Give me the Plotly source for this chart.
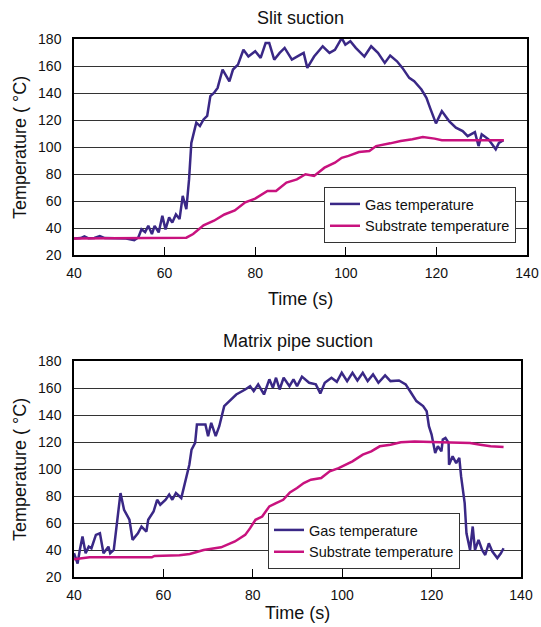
import plotly.graph_objects as go

# ---------------- data ----------------
slit_gas_t = [40, 41.5, 42.3, 43.2, 44.5, 45.7, 46.8, 48.5, 50, 51.5, 53.3, 54.2, 54.9, 55.7, 56.4, 57.2, 57.8, 58.7,
              59.5, 60.2, 61, 61.7, 62.5, 63.3, 64, 64.8, 65.4, 65.9, 66.7, 67, 67.8, 68.6, 69.4, 70.1, 70.9, 71.7,
              72.8, 74.3, 75.1, 76.2, 77.4, 78.5, 80, 81.2, 82.3, 83.1, 84.2, 85.4, 86.5, 88.1, 90, 90.7, 91.5, 93,
              94.9, 96.4, 97.6, 99.1, 99.9, 101, 102.2, 104.1, 105.6, 107.1, 108.6, 109.8, 111.3, 112.5, 114, 115.1,
              116.7, 117.8, 118.6, 119.9, 121.2, 122.8, 124.3, 125.8, 126.9, 128.5, 129.3, 130, 131.5, 133.1, 133.8,
              134.8]
slit_gas_v = [32.3, 32.5, 33.8, 32.4, 32.6, 34, 32.5, 32.3, 32.5, 32.2, 31, 33, 39, 37, 41.6, 35.5, 41.6, 36.7,
              49, 39, 47.8, 44, 50, 46.6, 63.8, 54, 76, 103, 114, 118, 115.5, 120.4, 123, 137.7, 140, 143.8,
              157.4, 148.7, 157.4, 161, 172, 167, 171, 166, 177, 177, 164.7, 169.7, 173.4, 164.7, 168.4, 169.7, 158.6, 167,
              174.6, 169.7, 172, 180.7, 175.8, 178.3, 173.4, 167, 174.6, 169.7, 162.3, 167.7, 163.5, 158.6, 151.2, 148.7,
              142.6, 136.4, 129, 117.5, 126.6, 119.2, 114.3, 111.8, 108, 111, 100.7, 109.4, 105.7, 98.3, 103,
              105]
slit_sub_t = [40, 50, 60, 64.8, 66.3, 68.6, 70.9, 73.2, 75.5, 77.8, 80, 82.7, 84.6, 86.9, 89.2, 91.1, 93, 95.3,
              97.6, 99.1, 100.6, 102.9, 105.2, 106.7, 109.8, 112.1, 114.7, 117, 119.6, 121.2, 134.9]
slit_sub_v = [32.3, 32.3, 32.8, 32.8, 35.5, 42, 45.4, 50, 53, 59, 61.8, 67.5, 67.5, 73.7, 76, 79.8, 78.6, 84.7,
              88.4, 92, 93.4, 96.3, 97, 100.7, 102.7, 104.4, 105.7, 107.4, 106.2, 105, 105]

mat_gas_t = [40, 40.8, 41.3, 41.9, 42.6, 43.3, 43.9, 44.9, 45.8, 46.6, 47.7, 48.1, 48.9, 49.7, 50.4, 51.2, 52.4,
             53.1, 54.3, 55.1, 56.2, 56.6, 57.8, 58.6, 59.3, 60.5, 61.3, 62, 62.8, 64, 65.1, 65.8, 66.3, 67.1, 67.5,
             68.6, 69.4, 70, 70.7, 71.7, 72.5, 73.6, 74.8, 76.3, 78.3, 79.4, 80.2, 81.2, 82.5, 83.7, 84.5, 85.2, 86,
             86.9, 88.2, 89.1, 89.9, 91, 92.6, 94.1, 95.1, 96.1, 97.6, 98.8, 99.9, 101.1, 102.3, 103.4, 104.6, 105.7,
             106.9, 108.1, 109.6, 110.8, 112.7, 114.2, 115.4, 116.6, 118.1, 118.9, 119.4, 120, 120.8, 121.4, 122.2,
             122.5, 123.1, 123.8, 123.9, 124.7, 125.5, 126.2, 126.6, 127.4, 127.8, 128.6, 129.2, 129.7, 130.5, 131.3,
             132, 132.8, 133.6, 134.7, 135.5, 136.1]
mat_gas_v = [37.6, 30, 40, 50, 37.6, 42.5, 41.3, 51.2, 52.4, 37.6, 42.5, 37.6, 40, 62.4, 82.2, 69.8, 62.4,
             47.5, 52.4, 57.4, 53.7, 62.4, 68.5, 77.2, 73.5, 77.2, 81, 77.2, 82.2, 78.5, 94.5, 103.2, 114.4, 119.3, 133,
             133, 133, 124.3, 134.2, 124.3, 131.7, 146.6, 150.3, 155.2, 158.9, 161.4, 157.7, 162.7, 155.2, 166.4, 160.2, 167.6, 158.9,
             167.6, 161.4, 166.4, 161.4, 168.4, 163.9, 162.7, 156, 163.9, 167.6, 164.6, 171.3, 165.1, 171.3, 165.6, 171.3, 165.1,
             170.1, 163.9, 169.3, 165.1, 165.6, 162.7, 156.5, 150.3, 146.6, 142.8, 131.7, 125.5, 111.9, 116.8, 113.1,
             121.8, 123, 119.3, 103.2, 109.4, 104.4, 108.2, 94.5, 74.7, 52.4, 40, 57.4, 40, 47.5, 40,
             36.3, 45, 38.8, 34, 37.6, 41.3]
mat_sub_t = [40, 43.5, 57.4, 58, 63.6, 65.9, 69, 72.9, 76, 78.3, 79.4, 80.6, 82.1, 83.7, 85.2, 86.8, 88.3, 89.9,
             91.4, 93, 95.3, 97.2, 99.2, 100.7, 102.3, 104.6, 106.5, 108.4, 110.8, 113.1, 116.2, 120, 123.9, 128.6,
             130.9, 133.2, 136.1]
mat_sub_v = [33.1, 34.6, 34.6, 35.6, 36.1, 37.1, 40, 42, 46.3, 51.2, 56.2, 62.4, 64.8, 72.3, 74.7, 77.2, 82.7, 85.9,
             89.6, 92.1, 93.3, 98.3, 100.7, 103.2, 105.7, 110.6, 113.1, 116.8, 118, 119.8, 120.3, 120, 119.8, 119.3,
             118, 116.8, 116.3]

x_ticks = [40, 60, 80, 100, 120, 140]
y_ticks = [20, 40, 60, 80, 100, 120, 140, 160, 180]
titles = ["Slit suction", "Matrix pipe suction"]
series_names = ["Gas temperature", "Substrate temperature"]
x_title = "Time (s)"
y_title = "Temperature ( °C)"

# ---------------- style ----------------
GAS = "#3a2886"
SUB = "#c8127e"
FONT = "Liberation Sans, Arial, Helvetica, sans-serif"
W, H = 541, 627
ML, MR, MT, MB = 74, 14, 39, 50
PW, PH = W - ML - MR, H - MT - MB

def px_x(px):
    return (px - ML) / PW

def px_y(py):
    return (H - MB - py) / PH

fig = go.Figure()
fig.add_trace(go.Scatter(x=slit_gas_t, y=slit_gas_v, mode="lines", name=series_names[0],
                         line=dict(color=GAS, width=2.5), xaxis="x", yaxis="y", legend="legend",
                         legendgroup="a"))
fig.add_trace(go.Scatter(x=slit_sub_t, y=slit_sub_v, mode="lines", name=series_names[1],
                         line=dict(color=SUB, width=2.5), xaxis="x", yaxis="y", legend="legend",
                         legendgroup="b"))
fig.add_trace(go.Scatter(x=mat_gas_t, y=mat_gas_v, mode="lines", name=series_names[0],
                         line=dict(color=GAS, width=2.5), xaxis="x2", yaxis="y2", legend="legend2",
                         legendgroup="c"))
fig.add_trace(go.Scatter(x=mat_sub_t, y=mat_sub_v, mode="lines", name=series_names[1],
                         line=dict(color=SUB, width=2.5), xaxis="x2", yaxis="y2", legend="legend2",
                         legendgroup="d"))

xax = dict(range=[40, 140], tickvals=x_ticks, ticks="inside", ticklen=8, tickwidth=1, tickcolor="#000",
           showline=True, linecolor="#000", linewidth=1.5, mirror=True, showgrid=False, zeroline=False,
           tickfont=dict(family=FONT, size=14, color="#111"), ticklabelstandoff=4, automargin=False)
yax = dict(range=[20, 180], tickvals=y_ticks, ticks="", showline=True, linecolor="#000", linewidth=1.5,
           mirror=True, showgrid=True, gridcolor="#333", gridwidth=1, zeroline=False,
           tickfont=dict(family=FONT, size=14, color="#111"), ticklabelstandoff=8, automargin=False)

top_dom = [px_y(255), 1.0]
bot_dom = [0.0, px_y(361)]

legend_style = dict(bgcolor="white", bordercolor="#333", borderwidth=1,
                    font=dict(family=FONT, size=14.5, color="#111"), xanchor="left", yanchor="top",
                    tracegroupgap=3, traceorder="normal")

fig.update_layout(
    width=W, height=H, margin=dict(l=ML, r=MR, t=MT, b=MB, autoexpand=False),
    paper_bgcolor="white", plot_bgcolor="white",
    font=dict(family=FONT, size=14, color="#111"),
    xaxis=dict(xax, domain=[0, 1], anchor="y"),
    yaxis=dict(yax, domain=top_dom, anchor="x"),
    xaxis2=dict(xax, domain=[0, px_x(521)], anchor="y2"),
    yaxis2=dict(yax, domain=bot_dom, anchor="x2"),
    legend=dict(legend_style, x=px_x(324), y=px_y(187)),
    legend2=dict(legend_style, x=px_x(268), y=px_y(513)),
    annotations=[
        dict(text=titles[0], x=px_x(300), y=px_y(18), xref="paper", yref="paper", showarrow=False,
             font=dict(family=FONT, size=18, color="#111"), xanchor="center", yanchor="middle"),
        dict(text=titles[1], x=px_x(298), y=px_y(341), xref="paper", yref="paper", showarrow=False,
             font=dict(family=FONT, size=18, color="#111"), xanchor="center", yanchor="middle"),
        dict(text=x_title, x=px_x(300), y=px_y(299), xref="paper", yref="paper", showarrow=False,
             font=dict(family=FONT, size=18, color="#111"), xanchor="center", yanchor="middle"),
        dict(text=x_title, x=px_x(297), y=px_y(613), xref="paper", yref="paper", showarrow=False,
             font=dict(family=FONT, size=18, color="#111"), xanchor="center", yanchor="middle"),
        dict(text=y_title, x=px_x(20), y=px_y(148), xref="paper", yref="paper", showarrow=False,
             textangle=-90, font=dict(family=FONT, size=18, color="#111"), xanchor="center", yanchor="middle"),
        dict(text=y_title, x=px_x(20), y=px_y(470), xref="paper", yref="paper", showarrow=False,
             textangle=-90, font=dict(family=FONT, size=18, color="#111"), xanchor="center", yanchor="middle"),
    ],
)

fig.write_html("out.html", config={"displayModeBar": False},
               post_script="document.body.style.margin='0';")
